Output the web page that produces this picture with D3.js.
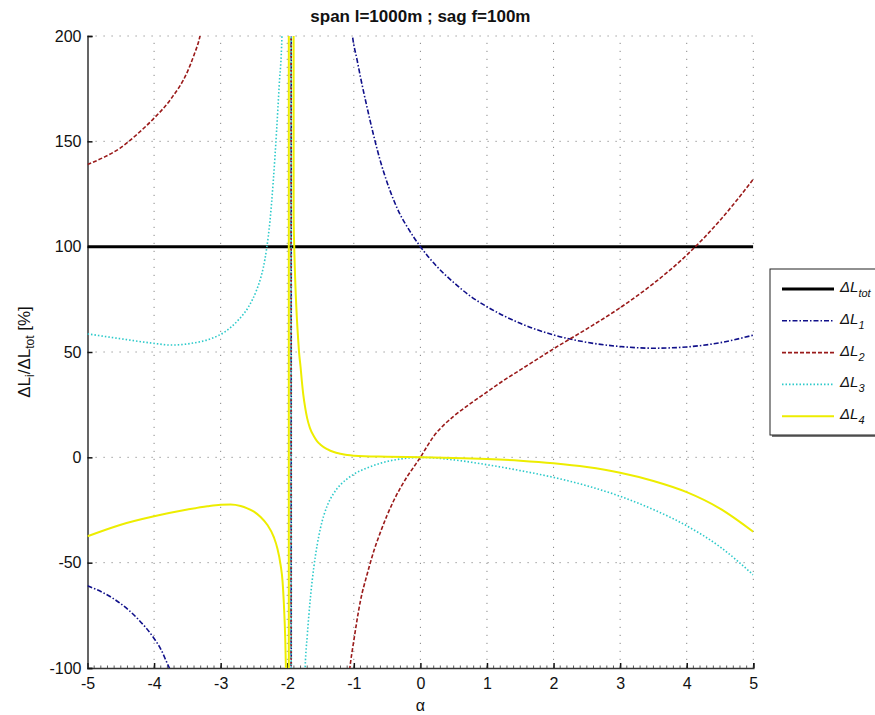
<!DOCTYPE html>
<html><head><meta charset="utf-8">
<script src="https://cdn.jsdelivr.net/npm/d3@7"></script>
<style>body{margin:0;background:#fff;} svg{display:block;font-family:"Liberation Sans",Arial,sans-serif;}</style>
</head><body><svg id="chart" width="875" height="715"></svg>
<script>
// ---- data ----
const titleText = "span l=1000m ; sag f=100m";
const xTicks = [-5,-4,-3,-2,-1,0,1,2,3,4,5];
const yTicks = [-100,-50,0,50,100,150,200];
const seriesNames = ["tot","1","2","3","4"];

const totAlpha = [-5, 5];
const totVal = [100, 100];

const l1Alpha = [-5,-4.75,-4.5,-4.25,-4.0,-3.9,-3.8,-3.75,-3.6,-3.3,-3.0,-2.6,-2.3,-2.1,-2.0,-1.945,-1.935,-1.9,-1.8,-1.6,-1.4,-1.25,-1.15,-1.08,-1.02,-0.95,-0.9,-0.8,-0.7,-0.6,-0.5,-0.4,-0.3,-0.2,-0.1,0,0.25,0.5,0.75,1.0,1.5,2.0,2.5,3.0,3.5,4.0,4.5,5.0];
const l1Val = [-61,-64.5,-69.5,-76.5,-86,-91,-98,-101.5,-118,-160,-240,-450,-900,-2200,-5000,-100000,100000,20000,3000,900,450,310,250,220,200,188.5,180.5,166,152.5,140.5,130.5,122,115,109.5,104.5,100,90.5,83,76.5,71.5,63.6,58.1,54.6,52.6,51.8,52.4,54.4,58];

const l2Alpha = [-5,-4.75,-4.5,-4.25,-4.0,-3.75,-3.5,-3.4,-3.31,-3.1,-2.8,-2.5,-2.2,-2.0,-1.945,-1.935,-1.9,-1.7,-1.5,-1.3,-1.15,-1.06,-1.0,-0.9,-0.8,-0.7,-0.6,-0.5,-0.4,-0.3,-0.2,-0.1,0,0.1,0.2,0.35,0.5,0.75,1.0,1.25,1.5,1.75,2.0,2.5,3.0,3.5,4.0,4.5,5.0];
const l2Val = [139,142.5,147,153.5,161,170,183,191,200,250,380,700,1800,6000,100000,-100000,-15000,-1500,-500,-210,-130,-100,-87,-68,-55.5,-44.5,-35.5,-27.5,-20.5,-14.5,-9.2,-4.6,0,5.2,10,15.3,19.5,25.5,31,36.5,41.5,46.5,51.5,61,71,82.5,96,112.5,132];

const l3Alpha = [-5,-4.5,-4.0,-3.75,-3.44,-3.13,-2.93,-2.74,-2.58,-2.46,-2.4,-2.36,-2.31,-2.26,-2.21,-2.16,-2.12,-2.08,-2.04,-2.0,-1.96,-1.945,-1.935,-1.9,-1.85,-1.8,-1.76,-1.73,-1.7,-1.65,-1.6,-1.55,-1.5,-1.4,-1.3,-1.2,-1.1,-1.0,-0.8,-0.6,-0.4,-0.2,0,0.5,1.0,1.5,2.0,2.5,3.0,3.5,4.0,4.5,5.0];
const l3Val = [58.6,56.3,54.1,53.3,54.1,56.5,59.7,65,71.5,79.4,85,90,99,112,131,155,177,200,300,600,3000,100000,-100000,-3000,-600,-250,-140,-99.5,-85,-66,-52,-41.5,-33.5,-23,-17,-13,-10.2,-8,-5,-2.8,-1.3,-0.4,0,-1.2,-3.5,-6.3,-9.5,-13.5,-18.5,-24.8,-32.5,-42.5,-55.8];

const l4Alpha = [-5,-4.5,-4.0,-3.5,-3.2,-3.0,-2.85,-2.7,-2.6,-2.5,-2.4,-2.3,-2.2,-2.15,-2.1,-2.07,-2.05,-2.03,-2.02,-2.0,-1.99,-1.977,-1.976,-1.906,-1.904,-1.895,-1.88,-1.86,-1.84,-1.82,-1.8,-1.78,-1.76,-1.73,-1.7,-1.66,-1.6,-1.55,-1.5,-1.4,-1.3,-1.2,-1.1,-1.0,-0.5,0,0.5,1.0,1.5,2.0,2.5,3.0,3.5,4.0,4.5,5.0];
const l4Val = [-37.5,-32,-28,-24.8,-23.2,-22.5,-22.4,-23.1,-24.2,-25.8,-28.3,-32,-38,-43,-51,-59,-70,-86,-100,-140,-250,-100000,100000,100000,115,100,84,69,58,49,43,36,30,23.5,18.5,14,10,7.6,6,3.9,2.5,1.7,1.1,0.8,0.3,0,-0.3,-0.8,-1.6,-2.8,-4.6,-7.3,-11.2,-16.5,-24.3,-35.3];

// ---- drawing ----
const svg = d3.select("#chart");
const L = 87.5, R = 753.3, T = 36, B = 668;
const x = d3.scaleLinear().domain([-5,5]).range([L,R]);
const y = d3.scaleLinear().domain([-100,200]).range([B,T]);

svg.append("defs").append("clipPath").attr("id","clip")
  .append("rect").attr("x",L).attr("y",T).attr("width",R-L).attr("height",B-T);

// grid
const grid = svg.append("g").attr("stroke","#888").attr("stroke-width",1).attr("stroke-dasharray","1.2,6.8");
grid.selectAll(".vg").data(xTicks.filter(d=>d!==-5)).enter().append("line")
  .attr("x1",d=>x(d)).attr("x2",d=>x(d)).attr("y1",B).attr("y2",T);
grid.selectAll(".hg").data(yTicks.filter(d=>d!==-100)).enter().append("line")
  .attr("y1",d=>y(d)).attr("y2",d=>y(d)).attr("x1",L).attr("x2",R);

// axes
const xAxis = d3.axisBottom(x).tickValues(xTicks).tickSize(-5).tickPadding(10).tickFormat(d=>String(d));
const gx = svg.append("g").attr("transform",`translate(0,${B})`).call(xAxis);
const yAxis = d3.axisLeft(y).tickValues(yTicks).tickSize(-5).tickPadding(6).tickFormat(d=>String(d));
const gy = svg.append("g").attr("transform",`translate(${L},0)`).call(yAxis);
[gx,gy].forEach(g=>{
  g.select(".domain").attr("stroke","#333").attr("stroke-width",1.5);
  g.selectAll(".tick line").attr("stroke","#111").attr("stroke-width",1.5);
  g.selectAll(".tick text").attr("fill","#111").attr("font-size",16).attr("font-family","'Liberation Sans',Arial,sans-serif");
});
// minor ticks on the x axis
const minor = d3.range(-50,51).map(d=>d/10);
svg.append("g").selectAll("line").data(minor).enter().append("line")
  .attr("x1",d=>x(d)).attr("x2",d=>x(d)).attr("y1",B).attr("y2",B-2.5)
  .attr("stroke","#333").attr("stroke-width",0.8);

// lines
const line = d3.line().x(d=>x(d[0])).y(d=>y(d[1])).curve(d3.curveMonotoneX);
const plot = svg.append("g").attr("clip-path","url(#clip)").attr("fill","none");
const series = [
  {a:totAlpha, v:totVal, color:"#000", w:3, dash:null},
  {a:l1Alpha, v:l1Val, color:"#10108a", w:1.6, dash:"5,2,1.5,2"},
  {a:l2Alpha, v:l2Val, color:"#9a1a1a", w:1.6, dash:"4,2"},
  {a:l3Alpha, v:l3Val, color:"#2ccaca", w:1.6, dash:"1.5,2"},
  {a:l4Alpha, v:l4Val, color:"#eded00", w:2, dash:null}
];
series.forEach(s=>{
  plot.append("path").datum(d3.zip(s.a,s.v)).attr("d",line)
    .attr("stroke",s.color).attr("stroke-width",s.w)
    .attr("stroke-dasharray",s.dash);
});

// title
svg.append("text").attr("x",(L+R)/2).attr("y",22).attr("text-anchor","middle")
  .attr("font-size",17).attr("font-weight","bold").attr("fill","#111").text(titleText);
// x label
svg.append("text").attr("x",(L+R)/2).attr("y",711).attr("text-anchor","middle")
  .attr("font-size",16).attr("fill","#111").text("α");
// y label
const yl = svg.append("text").attr("transform",`translate(30,${(T+B)/2}) rotate(-90)`)
  .attr("text-anchor","middle").attr("font-size",17).attr("fill","#111");
yl.append("tspan").text("ΔL");
yl.append("tspan").attr("dy",4).attr("font-size",12).text("i");
yl.append("tspan").attr("dy",-4).text("/ΔL");
yl.append("tspan").attr("dy",4).attr("font-size",12).text("tot");
yl.append("tspan").attr("dy",-4).text(" [%]");

// legend
const lg = svg.append("g");
lg.append("rect").attr("x",772).attr("y",271).attr("width",130).attr("height",166).attr("fill","#777");
lg.append("rect").attr("x",770).attr("y",269).attr("width",130).attr("height",166)
  .attr("fill","#fff").attr("stroke","#222").attr("stroke-width",1);
series.forEach((s,i)=>{
  const yy = 289 + i*31.8;
  lg.append("line").attr("x1",782).attr("x2",834).attr("y1",yy).attr("y2",yy)
    .attr("stroke",s.color).attr("stroke-width",s.w).attr("stroke-dasharray",s.dash);
  const t = lg.append("text").attr("x",840).attr("y",yy+3).attr("font-size",15)
    .attr("font-style","italic").attr("fill","#111");
  t.append("tspan").text("ΔL");
  t.append("tspan").attr("dy",5).attr("font-size",11).text(seriesNames[i]);
});
</script>
</body></html>
